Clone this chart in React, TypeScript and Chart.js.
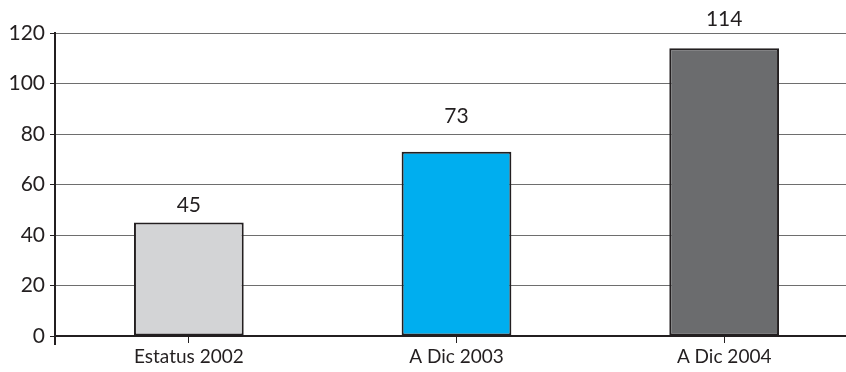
import React, { useEffect, useRef } from "react";
import { Chart, registerables } from "chart.js";

Chart.register(...registerables);

const categories = ["Estatus 2002", "A Dic 2003", "A Dic 2004"];
const values = [45, 73, 114];
const barColors = ["#d3d4d6", "#00aeef", "#6b6c6e"];
const yMin = 0;
const yMax = 120;
const yStep = 20;

const FONT = "Lato, 'DejaVu Sans', sans-serif";

const valueLabels = {
  id: "valueLabels",
  afterDatasetsDraw(chart: any, _args: any, opts: any) {
    const ctx = chart.ctx;
    const meta = chart.getDatasetMeta(0);
    const offsets: number[] = opts.offsets || [];
    ctx.save();
    ctx.fillStyle = "#231f20";
    ctx.font = `21px ${FONT}`;
    ctx.textAlign = "center";
    ctx.textBaseline = "middle";
    meta.data.forEach((bar: any, i: number) => {
      ctx.fillText(String(values[i]), bar.x, bar.y - (offsets[i] ?? 18));
    });
    ctx.restore();
  },
};

const axisExtend = {
  id: "axisExtend",
  afterDraw(chart: any) {
    const { ctx, chartArea } = chart;
    ctx.save();
    ctx.strokeStyle = "#231f20";
    ctx.lineWidth = 2;
    ctx.beginPath();
    ctx.moveTo(chartArea.left, chartArea.bottom);
    ctx.lineTo(chartArea.left, chartArea.bottom + 9);
    ctx.stroke();
    ctx.restore();
  },
};

export default function App() {
  const ref = useRef<HTMLCanvasElement | null>(null);
  useEffect(() => {
    document.body.style.margin = "0";
    document.body.style.overflow = "hidden";
    const chart = new Chart(ref.current!, {
      type: "bar",
      data: {
        labels: categories,
        datasets: [
          {
            data: values,
            backgroundColor: barColors,
            borderColor: "#231f20",
            borderWidth: 2,
            borderSkipped: false,
            barPercentage: 0.41,
            categoryPercentage: 1,
          },
        ],
      },
      options: {
        animation: false,
        responsive: false,
        maintainAspectRatio: false,
        layout: { padding: { top: 33, right: 0, bottom: 0, left: 0 } },
        plugins: {
          legend: { display: false },
          tooltip: { enabled: false },
          valueLabels: { offsets: [17, 35, 29] },
        } as any,
        scales: {
          x: {
            grid: {
              display: true,
              drawOnChartArea: false,
              drawTicks: true,
              tickLength: 7,
              offset: false,
              color: "#231f20",
              lineWidth: 1,
            },
            border: { display: true, color: "#231f20", width: 2 },
            ticks: {
              color: "#231f20",
              font: { family: FONT, size: 19 },
              padding: 2,
            },
            afterFit(scale: any) {
              scale.height = 36;
            },
          },
          y: {
            min: yMin,
            max: yMax,
            grid: {
              color: "#6e6e6e",
              lineWidth: 1,
              tickLength: 5,
              tickColor: "#231f20",
            },
            border: { display: true, color: "#231f20", width: 2 },
            ticks: {
              stepSize: yStep,
              color: "#231f20",
              font: { family: FONT, size: 21 },
              padding: 5,
            },
            afterFit(scale: any) {
              scale.width = 55;
            },
          },
        },
      },
      plugins: [valueLabels, axisExtend],
    });
    return () => chart.destroy();
  }, []);
  return (
    <div style={{ width: 846, height: 372, overflow: "hidden" }}>
      <canvas ref={ref} width={858} height={372} style={{ display: "block" }} />
    </div>
  );
}
